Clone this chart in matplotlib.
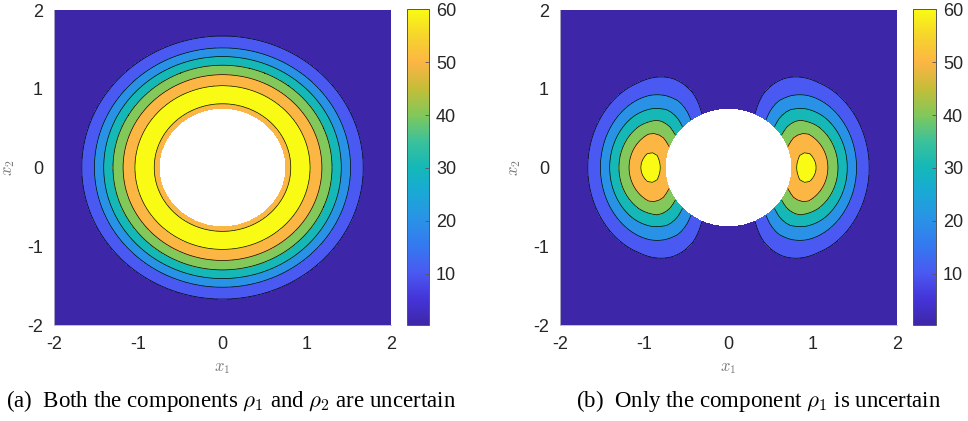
#!/usr/bin/env python3
# -*- coding: utf-8 -*-
'''Two filled contour maps (parula style) with a hole in the middle.'''

import numpy as np
import matplotlib
matplotlib.use('Agg')
import matplotlib.pyplot as plt
from matplotlib.colors import LinearSegmentedColormap, Normalize
from matplotlib.cm import ScalarMappable

# Radial profile: radius -> value
profile_r = [0.75, 0.81, 0.86, 0.92, 0.98, 1.04, 1.18, 1.30, 1.41, 1.52, 1.67, 2.00, 2.90]
profile_v = [57.0, 60.0, 62.0, 62.6, 62.0, 60.0, 50.0, 40.0, 30.0, 20.0, 10.0, 3.0, 0.5]
hole_radius = 0.75

levels = [-1, 10, 20, 30, 40, 50, 60, 100]
line_levels = [10, 20, 30, 40, 50, 60]
cbar_ticks = [10, 20, 30, 40, 50, 60]
axis_ticks = [-2, -1, 0, 1, 2]
captions = [r'(a)  Both the components $\rho_1$ and $\rho_2$ are uncertain',
            r'(b)  Only the component $\rho_1$ is uncertain']

# parula-like colour anchors
parula_anchors = [
    (0.000, '#3e26a8'), (0.083, '#4535d9'), (0.167, '#4a5af2'),
    (0.250, '#3479f0'), (0.333, '#2a92e6'), (0.417, '#1aa8d6'),
    (0.500, '#14b8b8'), (0.583, '#3cc19a'), (0.667, '#82c85a'),
    (0.750, '#c5bd38'), (0.833, '#fcb544'), (0.917, '#f6d42c'),
    (1.000, '#f9fb14'),
]
parula = LinearSegmentedColormap.from_list('parula', parula_anchors)
band_colors = [parula(0.0), parula(1/6), parula(2/6), parula(3/6),
               parula(4/6), parula(5/6), parula(1.0)]

plt.rcParams['font.family'] = ['Liberation Sans', 'DejaVu Sans']
plt.rcParams['mathtext.fontset'] = 'cm'
plt.rcParams['axes.unicode_minus'] = False

xs = np.linspace(-2, 2, 801)
xx, yy = np.meshgrid(xs, xs)
rr = np.hypot(xx, yy)
g = np.interp(rr, profile_r, profile_v)
g[rr < hole_radius] = np.nan
field_a = g
with np.errstate(invalid='ignore', divide='ignore'):
    field_b = g * xx**2 / rr**2

fig = plt.figure(figsize=(9.68, 4.21), dpi=100)
ax_pos = [[0.0558, 0.228, 0.3481, 0.748], [0.5785, 0.228, 0.3481, 0.748]]
cb_pos = [[0.4205, 0.228, 0.0227, 0.750], [0.9432, 0.228, 0.0237, 0.750]]
cap_x = [0.239, 0.784]

for i, field in enumerate([field_a, field_b]):
    ax = fig.add_axes(ax_pos[i])
    ax.contourf(xx, yy, field, levels=levels, colors=band_colors)
    ax.contour(xx, yy, field, levels=line_levels, colors='k', linewidths=0.5)
    ax.set_xlim(-2, 2)
    ax.set_ylim(-2, 2)
    ax.set_xticks(axis_ticks)
    ax.set_yticks(axis_ticks)
    ax.tick_params(direction='in', length=0, labelsize=13,
                   labelcolor='#262626', pad=8)
    for s in ax.spines.values():
        s.set_color('#b8b8c8')
        s.set_linewidth(0.6)
    ax.spines['top'].set_visible(False)
    ax.spines['right'].set_visible(False)
    ax.set_xlabel('$x_1$', fontsize=12, color='#777777', labelpad=6)
    ax.set_ylabel('$x_2$', fontsize=12, color='#777777', labelpad=7)

    cax = fig.add_axes(cb_pos[i])
    sm = ScalarMappable(norm=Normalize(vmin=0.3, vmax=60), cmap=parula)
    cb = fig.colorbar(sm, cax=cax, ticks=cbar_ticks)
    cb.outline.set_edgecolor('#555555')
    cb.outline.set_linewidth(0.7)
    cax.tick_params(direction='in', length=3, width=0.6, color='#555555',
                    labelsize=13, labelcolor='#262626', pad=5)

    fig.text(cap_x[i], 0.047, captions[i], ha='center', va='center',
             fontsize=16.5, family=['Liberation Serif', 'DejaVu Serif'])

fig.savefig('out.png', dpi=100)
plt.close(fig)
